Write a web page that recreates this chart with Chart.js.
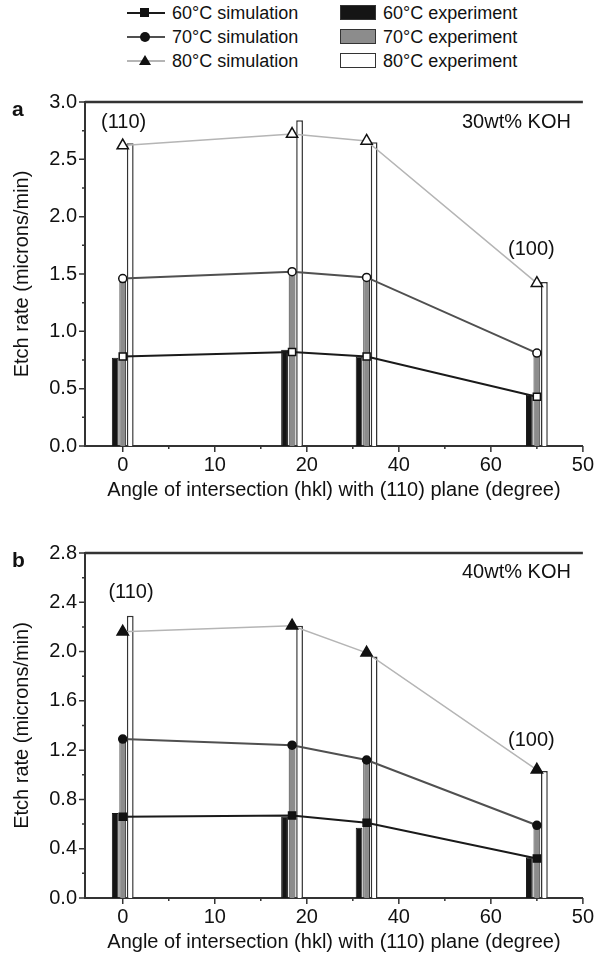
<!DOCTYPE html>
<html>
<head>
<meta charset="utf-8">
<title>Etch rate vs angle</title>
<script src="https://cdn.jsdelivr.net/npm/chart.js@4.4.0/dist/chart.umd.min.js"></script>
<style>
  body { margin: 0; background: #fff; width: 601px; height: 964px; position: relative; overflow: hidden;
         font-family: "Liberation Sans", Arial, sans-serif; color: #111; }
  .panel { position: absolute; left: 0; width: 601px; }
  #wrapA { top: 80px; height: 430px; }
  #wrapB { top: 530px; height: 434px; }
  .lg { position: absolute; font-size: 18px; line-height: 20px; white-space: nowrap; }
  .lg-line { position: absolute; width: 38px; height: 20px; }
  .lg-line .bar { position: absolute; left: 0; right: 0; top: 9px; height: 2px; }
  .lg-line .mk { position: absolute; }
  .lg-box { position: absolute; width: 34px; height: 13px; border: 1.5px solid #333; }
</style>
</head>
<body>
<div id="legend"></div>
<div class="panel" id="wrapA"><canvas id="chartA" width="601" height="430"></canvas></div>
<div class="panel" id="wrapB"><canvas id="chartB" width="601" height="434"></canvas></div>
<script>
// x positions of the four planes along the (uneven) angle axis, in axis units
const planePos = [0, 18.4, 26.5, 45.0];
const xTickValues = [0, 10, 20, 30, 40, 50];
const xTickLabels = ['0', '10', '20', '40', '60', '50'];

const seriesNames = ['60°C', '70°C', '80°C'];

// (a) 30wt% KOH
const sim60A = [0.78, 0.82, 0.78, 0.43];
const sim70A = [1.46, 1.52, 1.47, 0.81];
const sim80A = [2.62, 2.72, 2.66, 1.42];
const exp60A = [0.77, 0.84, 0.78, 0.45];
const exp70A = [1.43, 1.55, 1.46, 0.80];
const exp80A = [2.64, 2.84, 2.65, 1.43];

// (b) 40wt% KOH
const sim60B = [0.66, 0.67, 0.61, 0.32];
const sim70B = [1.29, 1.24, 1.12, 0.59];
const sim80B = [2.16, 2.21, 1.99, 1.04];
const exp60B = [0.69, 0.66, 0.57, 0.33];
const exp70B = [1.29, 1.24, 1.12, 0.59];
const exp80B = [2.29, 2.21, 1.96, 1.03];

const yTicksA = [0, 0.5, 1.0, 1.5, 2.0, 2.5, 3.0];
const yTicksB = [0, 0.4, 0.8, 1.2, 1.6, 2.0, 2.4, 2.8];

const FONT = '"Liberation Sans", Arial, sans-serif';
const TXT = '#111';
const lineColors = ['#1a1a1a', '#505050', '#b5b5b5'];
const barFills = ['#151515', '#8c8c8c', '#ffffff'];
const pointStyles = ['rect', 'circle', 'triangle'];
const pointSizes = [5, 4, 6.5];

// ---- legend (html) ----
function buildLegend() {
    const el = document.getElementById('legend');
    const rows = [13, 37, 61];
    let html = '';
    seriesNames.forEach((name, i) => {
        const top = rows[i] - 10;
        let mk;
        if (i === 0) mk = '<div class="mk" style="left:13px;top:5px;width:9px;height:9px;background:#111"></div>';
        else if (i === 1) mk = '<div class="mk" style="left:13px;top:5px;width:10px;height:10px;border-radius:50%;background:#111"></div>';
        else mk = '<div class="mk" style="left:12px;top:4px;width:0;height:0;border-left:6px solid transparent;border-right:6px solid transparent;border-bottom:10px solid #111"></div>';
        html += `<div class="lg-line" style="left:127px;top:${top}px">
                   <div class="bar" style="background:${lineColors[i]};"></div>${mk}</div>`;
        html += `<div class="lg" style="left:172px;top:${top}px">${name} simulation</div>`;
        html += `<div class="lg-box" style="left:340px;top:${top + 2}px;background:${barFills[i]}"></div>`;
        html += `<div class="lg" style="left:383px;top:${top}px">${name} experiment</div>`;
    });
    el.innerHTML = html;
}

// ---- axis decorations: tick marks, top frame, notes, panel letter ----
const axisDecor = {
    id: 'axisDecor',
    afterDraw(chart, args, opts) {
        const { ctx, chartArea, scales } = chart;
        const x = scales.x, y = scales.y;
        ctx.save();
        ctx.strokeStyle = '#333';
        ctx.lineWidth = 1.5;
        ctx.beginPath();
        for (let v = 0; v <= 50 + 1e-9; v += 5) {
            const px = x.getPixelForValue(v);
            const len = (Math.round(v) % 10 === 0) ? 6 : 3;
            ctx.moveTo(px, chartArea.bottom);
            ctx.lineTo(px, chartArea.bottom + len);
        }
        const yt = opts.yTicks;
        const step = yt[1] - yt[0];
        for (let v = 0; v <= y.max + 1e-9; v += step / 2) {
            const py = y.getPixelForValue(v);
            const major = Math.abs(v / step - Math.round(v / step)) < 1e-6;
            ctx.moveTo(chartArea.left, py);
            ctx.lineTo(chartArea.left - (major ? 6 : 3), py);
        }
        ctx.stroke();
        // top frame
        ctx.lineWidth = 2.5;
        ctx.beginPath();
        ctx.moveTo(chartArea.left, chartArea.top);
        ctx.lineTo(chartArea.right, chartArea.top);
        ctx.stroke();
        // notes
        ctx.fillStyle = TXT;
        ctx.font = '20px ' + FONT;
        ctx.textBaseline = 'middle';
        opts.notes.forEach(n => {
            ctx.textAlign = n.align || 'center';
            ctx.fillText(n.text, x.getPixelForValue(n.x), y.getPixelForValue(n.y));
        });
        // panel letter
        ctx.font = 'bold 21px ' + FONT;
        ctx.textAlign = 'left';
        ctx.fillText(opts.letter, 12, chartArea.top + 8);
        ctx.restore();
    }
};

function pts(vals) {
    return planePos.map((x, i) => ({ x: x, y: vals[i] }));
}

function makePanel(canvasId, p) {
    const filled = p.filledMarkers;
    const lines = p.sim.map((vals, i) => ({
        type: 'line',
        label: seriesNames[i] + ' simulation',
        data: pts(vals),
        borderColor: lineColors[i],
        borderWidth: i === 2 ? 1.5 : 2,
        pointStyle: pointStyles[i],
        pointRadius: pointSizes[i],
        pointBorderWidth: 1.5,
        pointBorderColor: '#111',
        pointBackgroundColor: filled ? '#111' : '#fff',
        tension: 0,
        order: 0
    }));
    const bars = p.exp.map((vals, i) => ({
        type: 'bar',
        label: seriesNames[i] + ' experiment',
        data: pts(vals),
        backgroundColor: barFills[i],
        borderColor: i === 0 ? '#151515' : '#333',
        borderWidth: i === 2 ? 1.5 : 1,
        categoryPercentage: 0.49,
        barPercentage: 0.9,
        order: 1
    }));

    return new Chart(document.getElementById(canvasId), {
        type: 'bar',
        data: { datasets: bars.concat(lines) },
        options: {
            responsive: false,
            animation: false,
            layout: { padding: { top: p.padTop, right: 18, left: 0, bottom: 0 } },
            plugins: {
                legend: { display: false },
                tooltip: { enabled: false },
                axisDecor: { notes: p.notes, letter: p.letter, yTicks: p.yTicks }
            },
            scales: {
                x: {
                    type: 'linear',
                    min: -4.1,
                    max: 50,
                    offset: false,
                    afterBuildTicks: s => { s.ticks = [0, 5, 10, 15, 20, 25, 30, 35, 40, 45, 50].map(v => ({ value: v })); },
                    ticks: {
                        autoSkip: false, maxRotation: 0, padding: 7, color: TXT,
                        font: { family: FONT, size: 20 },
                        callback: v => {
                            const k = xTickValues.indexOf(Math.round(v));
                            return (k >= 0 && Math.abs(v - Math.round(v)) < 1e-6) ? xTickLabels[k] : '';
                        }
                    },
                    grid: { display: false, drawTicks: false, offset: false },
                    border: { display: true, color: '#333', width: 2 },
                    title: {
                        display: true, text: 'Angle of intersection (hkl) with (110) plane (degree)',
                        color: TXT, font: { family: FONT, size: 20 }, padding: { top: 0, bottom: p.titlePadBottom }
                    },
                    afterFit: s => { s.height = p.xAxisHeight; }
                },
                y: {
                    min: 0,
                    max: p.yTicks[p.yTicks.length - 1],
                    afterBuildTicks: s => { s.ticks = p.yTicks.map(v => ({ value: v })); },
                    ticks: {
                        autoSkip: false, padding: 8, color: TXT,
                        font: { family: FONT, size: 20 },
                        callback: v => v.toFixed(1)
                    },
                    grid: { display: false, drawTicks: false },
                    border: { display: true, color: '#333', width: 2 },
                    title: {
                        display: true, text: 'Etch rate (microns/min)',
                        color: TXT, font: { family: FONT, size: 20 }, padding: { top: 10, bottom: 0 }
                    },
                    afterFit: s => { s.width = 85; }
                }
            }
        },
        plugins: [axisDecor]
    });
}

document.addEventListener('DOMContentLoaded', () => {
    buildLegend();
    makePanel('chartA', {
        sim: [sim60A, sim70A, sim80A],
        exp: [exp60A, exp70A, exp80A],
        filledMarkers: false,
        yTicks: yTicksA,
        padTop: 22,
        xAxisHeight: 64,
        titlePadBottom: 8,
        letter: 'a',
        notes: [
            { text: '(110)', x: 0.1, y: 2.82 },
            { text: '(100)', x: 44.4, y: 1.71 },
            { text: '30wt% KOH', x: 48.7, y: 2.82, align: 'right' }
        ]
    });
    makePanel('chartB', {
        sim: [sim60B, sim70B, sim80B],
        exp: [exp60B, exp70B, exp80B],
        filledMarkers: true,
        yTicks: yTicksB,
        padTop: 23,
        xAxisHeight: 66,
        titlePadBottom: 10,
        letter: 'b',
        notes: [
            { text: '(110)', x: 0.9, y: 2.48 },
            { text: '(100)', x: 44.4, y: 1.28 },
            { text: '40wt% KOH', x: 48.7, y: 2.64, align: 'right' }
        ]
    });
});
</script>
</body>
</html>
